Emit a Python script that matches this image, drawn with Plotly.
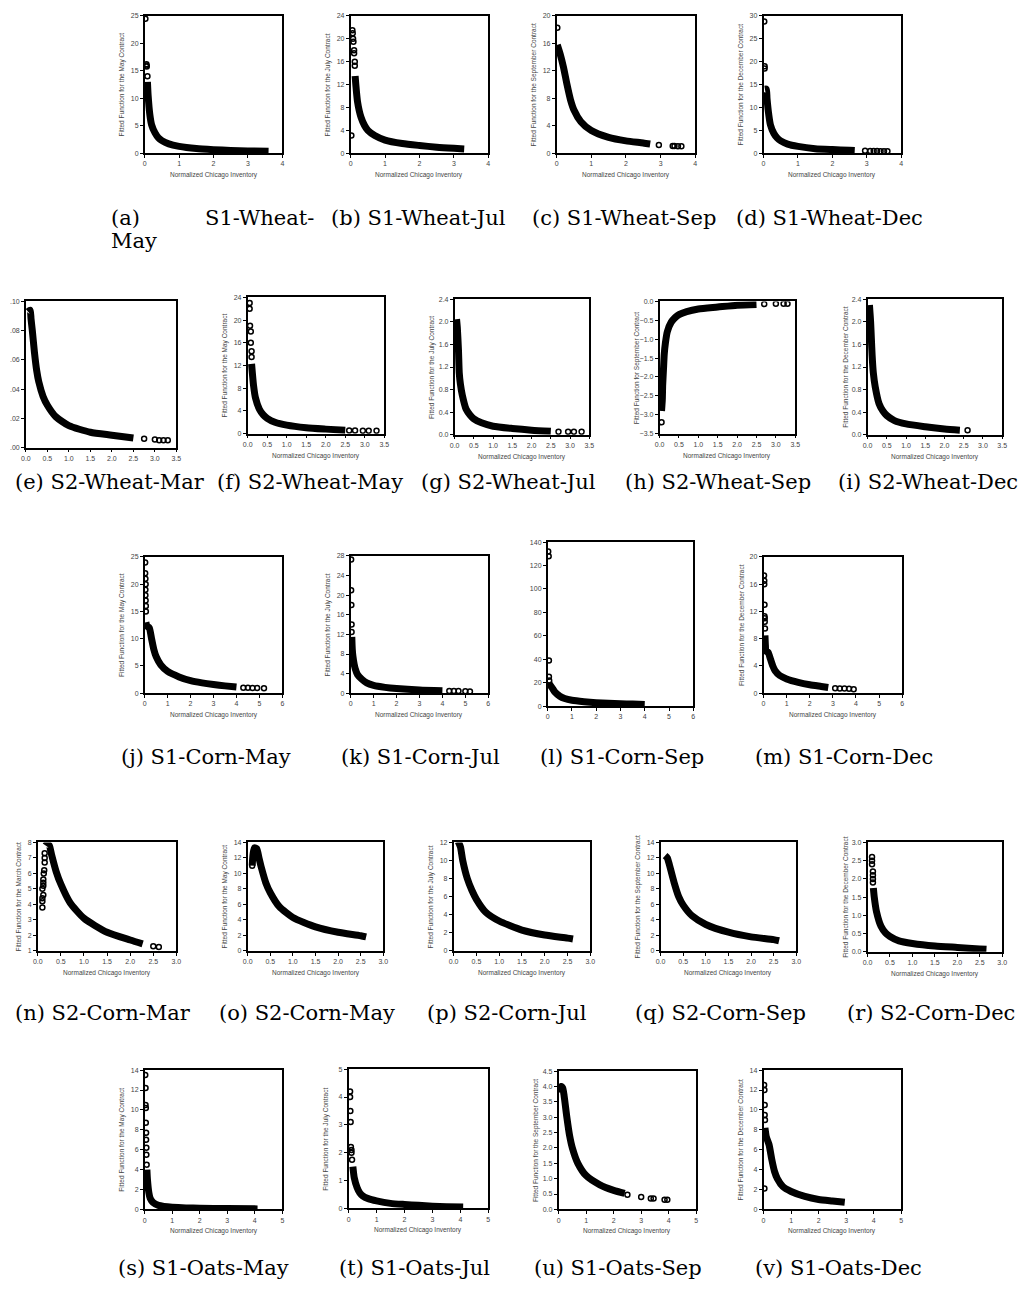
import plotly.graph_objects as go

# page is offset by the default 8px body margin; figure sized to fit the window
OFF = 8
W, H = 1019, 1273

# ---------------- data ----------------
# (a) S1-Wheat-May
a_band_x = [0.08, 0.1, 0.15, 0.2, 0.3, 0.4, 0.5, 0.7, 1.0, 1.5, 2.0, 2.5, 3.0, 3.6]
a_band_y = [13.0, 10.5, 7.0, 5.2, 3.7, 2.8, 2.3, 1.7, 1.25, 0.85, 0.65, 0.5, 0.42, 0.35]
a_out_x = [0.02, 0.05, 0.06, 0.05, 0.08]
a_out_y = [24.5, 16.2, 15.8, 16.0, 14.0]
# (b) S1-Wheat-Jul
b_band_x = [0.13, 0.15, 0.2, 0.3, 0.4, 0.5, 0.7, 1.0, 1.5, 2.0, 2.5, 3.0, 3.3]
b_band_y = [13.5, 12.0, 9.0, 6.3, 4.9, 4.0, 3.1, 2.3, 1.7, 1.35, 1.05, 0.85, 0.75]
b_out_x = [0.05, 0.06, 0.07, 0.08, 0.1, 0.1, 0.12, 0.12, 0.02]
b_out_y = [21.5, 21.0, 20.0, 19.5, 18.0, 17.5, 16.0, 15.3, 3.1]
# (c) S1-Wheat-Sep
c_band_x = [0.02, 0.1, 0.2, 0.3, 0.4, 0.5, 0.7, 1.0, 1.5, 2.0, 2.5, 2.7]
c_band_y = [15.8, 14.5, 12.5, 10.0, 7.8, 6.3, 4.6, 3.3, 2.3, 1.8, 1.5, 1.35]
c_out_x = [0.02, 2.95, 3.35, 3.4, 3.5, 3.6]
c_out_y = [18.3, 1.2, 1.05, 1.05, 1.0, 1.0]
# (d) S1-Wheat-Dec
d_band_x = [0.04, 0.08, 0.1, 0.15, 0.2, 0.3, 0.4, 0.5, 0.7, 1.0, 1.5, 2.0, 2.5, 2.65]
d_band_y = [14.0, 14.0, 12.0, 8.5, 6.2, 4.3, 3.3, 2.7, 2.0, 1.5, 1.0, 0.8, 0.65, 0.6]
d_out_x = [0.02, 0.03, 0.03, 2.95, 3.1, 3.2, 3.3, 3.4, 3.5, 3.6]
d_out_y = [28.8, 19.0, 18.5, 0.55, 0.5, 0.5, 0.5, 0.45, 0.45, 0.45]
# (e) S2-Wheat-Mar
e_band_x = [0.05, 0.1, 0.12, 0.15, 0.2, 0.25, 0.3, 0.4, 0.5, 0.7, 1.0, 1.5, 2.0, 2.5]
e_band_y = [0.093, 0.094, 0.088, 0.08, 0.065, 0.053, 0.045, 0.035, 0.029, 0.021, 0.015, 0.0105, 0.0085, 0.0065]
e_out_x = [2.75, 3.0, 3.1, 3.2, 3.3]
e_out_y = [0.006, 0.0055, 0.005, 0.005, 0.005]
# (f) S2-Wheat-May
f_band_x = [0.1, 0.15, 0.2, 0.3, 0.4, 0.5, 0.7, 1.0, 1.5, 2.0, 2.5]
f_band_y = [12.3, 8.5, 6.3, 4.3, 3.3, 2.7, 2.0, 1.5, 1.05, 0.8, 0.6]
f_out_x = [0.05, 0.05, 0.06, 0.08, 0.08, 0.1, 0.1, 2.6, 2.75, 2.95, 3.1, 3.3]
f_out_y = [23.0, 22.0, 19.0, 18.0, 16.0, 14.5, 13.5, 0.55, 0.55, 0.5, 0.5, 0.5]
# (g) S2-Wheat-Jul
g_band_x = [0.05, 0.07, 0.1, 0.12, 0.15, 0.2, 0.3, 0.4, 0.5, 0.7, 1.0, 1.5, 2.0, 2.5]
g_band_y = [2.05, 1.9, 1.5, 1.1, 0.9, 0.7, 0.45, 0.35, 0.28, 0.21, 0.15, 0.11, 0.08, 0.06]
g_out_x = [2.7, 2.95, 3.1, 3.3]
g_out_y = [0.05, 0.05, 0.05, 0.05]
# (h) S2-Wheat-Sep
h_band_x = [0.05, 0.07, 0.08, 0.1, 0.12, 0.15, 0.2, 0.3, 0.4, 0.5, 0.7, 1.0, 1.5, 2.0, 2.5]
h_band_y = [-2.9, -2.6, -2.2, -1.8, -1.4, -1.1, -0.8, -0.55, -0.43, -0.35, -0.27, -0.2, -0.15, -0.1, -0.08]
h_out_x = [0.05, 2.7, 3.0, 3.2, 3.3]
h_out_y = [-3.2, -0.07, -0.06, -0.06, -0.06]
# (i) S2-Wheat-Dec
i_band_x = [0.05, 0.08, 0.1, 0.12, 0.15, 0.2, 0.3, 0.4, 0.5, 0.7, 1.0, 1.5, 2.0, 2.4]
i_band_y = [2.3, 2.0, 1.7, 1.4, 1.1, 0.85, 0.55, 0.42, 0.34, 0.25, 0.19, 0.14, 0.1, 0.08]
i_out_x = [2.6]
i_out_y = [0.08]
# (j) S1-Corn-May
j_band_x = [0.05, 0.1, 0.2, 0.3, 0.4, 0.5, 0.7, 1.0, 1.5, 2.0, 2.5, 3.0, 3.5, 4.0]
j_band_y = [13.0, 12.3, 12.0, 10.0, 8.0, 6.7, 5.2, 4.0, 3.0, 2.3, 1.9, 1.6, 1.35, 1.15]
j_out_x = [0.02, 0.02, 0.03, 0.04, 0.03, 0.03, 0.04, 0.05, 0.05, 4.3, 4.5, 4.7, 4.9, 5.2]
j_out_y = [24.0, 22.0, 21.0, 20.0, 19.0, 18.0, 17.0, 16.0, 15.0, 1.0, 1.0, 0.95, 0.95, 0.9]
# (k) S1-Corn-Jul
k_band_x = [0.05, 0.07, 0.1, 0.15, 0.2, 0.3, 0.5, 0.7, 1.0, 1.5, 2.0, 3.0, 4.0]
k_band_y = [11.5, 9.0, 7.5, 6.0, 5.0, 3.8, 2.8, 2.1, 1.6, 1.2, 0.95, 0.65, 0.5]
k_out_x = [0.02, 0.02, 0.03, 0.04, 0.04, 4.3, 4.5, 4.7, 5.0, 5.2]
k_out_y = [27.3, 21.0, 18.0, 14.0, 12.5, 0.45, 0.45, 0.45, 0.4, 0.35]
# (l) S1-Corn-Sep
l_band_x = [0.05, 0.1, 0.2, 0.3, 0.5, 0.7, 1.0, 1.5, 2.0, 2.5, 3.0, 3.5, 4.0]
l_band_y = [20.0, 18.0, 15.0, 12.0, 8.5, 6.5, 5.0, 3.8, 3.0, 2.5, 2.1, 1.8, 1.5]
l_out_x = [0.02, 0.04, 0.05, 0.05, 0.06]
l_out_y = [132.0, 128.0, 39.0, 25.0, 22.0]
# (m) S1-Corn-Dec
m_band_x = [0.06, 0.08, 0.1, 0.2, 0.3, 0.4, 0.5, 0.7, 1.0, 1.5, 2.0, 2.5, 2.8]
m_band_y = [8.5, 7.0, 6.2, 6.0, 5.0, 4.0, 3.3, 2.6, 2.1, 1.6, 1.25, 1.0, 0.85]
m_out_x = [0.02, 0.03, 0.03, 0.04, 0.04, 0.05, 0.05, 0.06, 3.1, 3.3, 3.5, 3.7, 3.9]
m_out_y = [17.3, 16.5, 16.0, 13.0, 11.3, 11.0, 10.5, 9.5, 0.75, 0.7, 0.7, 0.65, 0.6]
# (n) S2-Corn-Mar
n_band_x = [0.17, 0.2, 0.25, 0.3, 0.4, 0.5, 0.7, 1.0, 1.5, 2.0, 2.27]
n_band_y = [7.8, 7.9, 7.8, 7.2, 6.1, 5.3, 4.1, 3.1, 2.2, 1.7, 1.45]
n_out_x = [0.1, 0.1, 0.1, 0.12, 0.1, 0.12, 0.12, 0.12, 0.13, 0.14, 0.15, 0.15, 0.15, 2.5, 2.62]
n_out_y = [3.8, 4.2, 4.4, 4.6, 5.0, 5.2, 5.4, 5.6, 6.0, 6.2, 6.7, 7.0, 7.3, 1.3, 1.25]
# (o) S2-Corn-May
o_band_x = [0.1, 0.12, 0.15, 0.2, 0.25, 0.3, 0.4, 0.5, 0.7, 1.0, 1.5, 2.0, 2.5, 2.62]
o_band_y = [11.0, 12.5, 13.3, 13.2, 12.0, 10.8, 8.8, 7.5, 5.7, 4.3, 3.1, 2.4, 1.95, 1.8]
o_out_x = [0.1]
o_out_y = [11.0]
# (p) S2-Corn-Jul
p_band_x = [0.1, 0.15, 0.2, 0.3, 0.4, 0.5, 0.7, 1.0, 1.5, 2.0, 2.5, 2.62]
p_band_y = [12.1, 11.5, 10.0, 8.0, 6.7, 5.7, 4.3, 3.3, 2.3, 1.75, 1.4, 1.3]
p_out_x = []
p_out_y = []
# (q) S2-Corn-Sep
q_band_x = [0.1, 0.15, 0.2, 0.3, 0.4, 0.5, 0.7, 1.0, 1.5, 2.0, 2.5, 2.62]
q_band_y = [12.3, 12.0, 11.0, 8.8, 7.0, 5.9, 4.5, 3.4, 2.4, 1.8, 1.45, 1.3]
q_out_x = []
q_out_y = []
# (r) S2-Corn-Dec
r_band_x = [0.13, 0.15, 0.2, 0.3, 0.4, 0.5, 0.7, 1.0, 1.5, 2.0, 2.5, 2.65]
r_band_y = [1.75, 1.5, 1.1, 0.7, 0.52, 0.42, 0.3, 0.23, 0.16, 0.12, 0.08, 0.07]
r_out_x = [0.1, 0.1, 0.1, 0.12, 0.12, 0.12, 0.12]
r_out_y = [2.6, 2.5, 2.4, 2.2, 2.1, 2.0, 1.9]
# (s) S1-Oats-May
s_band_x = [0.08, 0.1, 0.15, 0.2, 0.3, 0.5, 0.7, 1.0, 1.5, 2.0, 3.0, 4.1]
s_band_y = [4.0, 3.0, 1.7, 1.1, 0.7, 0.4, 0.3, 0.22, 0.15, 0.12, 0.08, 0.05]
s_out_x = [0.02, 0.03, 0.03, 0.04, 0.04, 0.05, 0.05, 0.06, 0.06, 0.07]
s_out_y = [13.5, 12.2, 10.5, 10.2, 8.7, 7.7, 7.0, 6.2, 5.5, 4.5]
# (t) S1-Oats-Jul
t_band_x = [0.15, 0.2, 0.3, 0.4, 0.5, 0.7, 1.0, 1.5, 2.0, 2.5, 3.0, 3.5, 4.1]
t_band_y = [1.5, 1.1, 0.75, 0.55, 0.45, 0.35, 0.27, 0.18, 0.14, 0.11, 0.08, 0.06, 0.05]
t_out_x = [0.05, 0.05, 0.06, 0.07, 0.08, 0.1, 0.1, 0.12]
t_out_y = [4.2, 4.0, 3.5, 3.1, 2.2, 2.1, 2.0, 1.75]
# (u) S1-Oats-Sep
u_band_x = [0.05, 0.1, 0.15, 0.2, 0.3, 0.4, 0.5, 0.7, 1.0, 1.5, 2.0, 2.4]
u_band_y = [3.8, 4.0, 3.95, 3.7, 3.0, 2.4, 2.0, 1.5, 1.1, 0.8, 0.62, 0.52]
u_out_x = [2.5, 3.0, 3.35, 3.45, 3.85, 3.95]
u_out_y = [0.48, 0.4, 0.35, 0.35, 0.31, 0.31]
# (v) S1-Oats-Dec
v_band_x = [0.05, 0.1, 0.2, 0.3, 0.4, 0.5, 0.7, 1.0, 1.5, 2.0, 2.5, 2.95]
v_band_y = [8.2, 7.3, 6.5, 5.0, 3.8, 3.1, 2.3, 1.8, 1.3, 1.0, 0.85, 0.72]
v_out_x = [0.02, 0.03, 0.04, 0.04, 0.05, 0.03]
v_out_y = [12.5, 12.0, 10.5, 9.5, 9.0, 2.1]

XT = "Normalized Chicago Inventory"
MAY = "Fitted Function for the May Contract"
JUL = "Fitted Function for the July Contract"
SEP = "Fitted Function for the September Contract"
DEC = "Fitted Function for the December Contract"
MAR = "Fitted Function for the March Contract"
SEP2 = "Fitted Function for September Contract"

e_ytick_vals = [0, 0.02, 0.04, 0.06, 0.08, 0.10]
e_ytick_text = [".00", ".02", ".04", ".06", ".08", ".10"]

captions = {
    'b': "(b) S1-Wheat-Jul", 'c': "(c) S1-Wheat-Sep", 'd': "(d) S1-Wheat-Dec",
    'e': "(e) S2-Wheat-Mar", 'f': "(f) S2-Wheat-May", 'g': "(g) S2-Wheat-Jul",
    'h': "(h) S2-Wheat-Sep", 'i': "(i) S2-Wheat-Dec",
    'j': "(j) S1-Corn-May", 'k': "(k) S1-Corn-Jul", 'l': "(l) S1-Corn-Sep",
    'm': "(m) S1-Corn-Dec",
    'n': "(n) S2-Corn-Mar", 'o': "(o) S2-Corn-May", 'p': "(p) S2-Corn-Jul",
    'q': "(q) S2-Corn-Sep", 'r': "(r) S2-Corn-Dec",
    's': "(s) S1-Oats-May", 't': "(t) S1-Oats-Jul", 'u': "(u) S1-Oats-Sep",
    'v': "(v) S1-Oats-Dec",
}

# caption placement in page pixels: (x, anchor, y)
CAP_POS = {
    'b': (418, 'center', 215), 'c': (625, 'center', 215), 'd': (833, 'center', 215),
    'e': (8, 'left', 481), 'f': (212, 'left', 481), 'g': (418, 'left', 481),
    'h': (624, 'left', 481), 'i': (1025, 'right', 481),
    'j': (115, 'left', 757), 'k': (337, 'left', 757), 'l': (538, 'left', 757),
    'm': (755, 'left', 757),
    'n': (8, 'left', 1015), 'o': (214, 'left', 1015), 'p': (424, 'left', 1015),
    'q': (634, 'left', 1015), 'r': (1022, 'right', 1015),
    's': (112, 'left', 1271), 't': (335, 'left', 1271), 'u': (532, 'left', 1271),
    'v': (755, 'left', 1271),
}

# ---------------- layout of panels (page pixel boxes) ----------------
P = [
    ('a', (141, 12, 280, 150), [0, 4], 1, 'd', [0, 25], 5, 'd', MAY, True, a_band_x, a_band_y, a_out_x, a_out_y),
    ('b', (349, 12, 488, 150), [0, 4], 1, 'd', [0, 24], 4, 'd', JUL, True, b_band_x, b_band_y, b_out_x, b_out_y),
    ('c', (557, 12, 697, 150), [0, 4], 1, 'd', [0, 20], 4, 'd', SEP, True, c_band_x, c_band_y, c_out_x, c_out_y),
    ('d', (766, 12, 905, 150), [0, 4], 1, 'd', [0, 30], 5, 'd', DEC, True, d_band_x, d_band_y, d_out_x, d_out_y),
    ('e', (21, 299, 173, 446), [0, 3.5], 0.5, '.1f', [0, 0.1], 0.02, 'E', None, False, e_band_x, e_band_y, e_out_x, e_out_y),
    ('f', (245, 295, 383, 432), [0, 3.5], 0.5, '.1f', [0, 24], 4, 'd', MAY, True, f_band_x, f_band_y, f_out_x, f_out_y),
    ('g', (454, 297, 590, 433), [0, 3.5], 0.5, '.1f', [0, 2.4], 0.4, '.1f', JUL, True, g_band_x, g_band_y, g_out_x, g_out_y),
    ('h', (661, 299, 798, 432), [0, 3.5], 0.5, '.1f', [-3.5, 0], 0.5, '.1f', SEP2, True, h_band_x, h_band_y, h_out_x, h_out_y),
    ('i', (871, 297, 1007, 433), [0, 3.5], 0.5, '.1f', [0, 2.4], 0.4, '.1f', DEC, True, i_band_x, i_band_y, i_out_x, i_out_y),
    ('j', (141, 556, 280, 693), [0, 6], 1, 'd', [0, 25], 5, 'd', MAY, True, j_band_x, j_band_y, j_out_x, j_out_y),
    ('k', (349, 555, 488, 693), [0, 6], 1, 'd', [0, 28], 4, 'd', JUL, True, k_band_x, k_band_y, k_out_x, k_out_y),
    ('l', (548, 541, 695, 706), [0, 6], 1, 'd', [0, 140], 20, 'd', None, False, l_band_x, l_band_y, l_out_x, l_out_y),
    ('m', (766, 556, 906, 693), [0, 6], 1, 'd', [0, 20], 4, 'd', DEC, True, m_band_x, m_band_y, m_out_x, m_out_y),
    ('n', (33, 843, 173, 952), [0, 3], 0.5, '.1f', [1, 8], 1, 'd', MAR, True, n_band_x, n_band_y, n_out_x, n_out_y),
    ('o', (245, 843, 382, 952), [0, 3], 0.5, '.1f', [0, 14], 2, 'd', MAY, True, o_band_x, o_band_y, o_out_x, o_out_y),
    ('p', (453, 843, 591, 952), [0, 3], 0.5, '.1f', [0, 12], 2, 'd', JUL, True, p_band_x, p_band_y, p_out_x, p_out_y),
    ('q', (662, 843, 799, 952), [0, 3], 0.5, '.1f', [0, 14], 2, 'd', SEP, True, q_band_x, q_band_y, q_out_x, q_out_y),
    ('r', (871, 843, 1007, 953), [0, 3], 0.5, '.1f', [0, 3], 0.5, '.1f', DEC, True, r_band_x, r_band_y, r_out_x, r_out_y),
    ('s', (141, 1072, 280, 1212), [0, 5], 1, 'd', [0, 14], 2, 'd', MAY, True, s_band_x, s_band_y, s_out_x, s_out_y),
    ('t', (347, 1071, 488, 1211), [0, 5], 1, 'd', [0, 5], 1, 'd', JUL, True, t_band_x, t_band_y, t_out_x, t_out_y),
    ('u', (559, 1073, 698, 1212), [0, 5], 1, 'd', [0, 4.5], 0.5, '.1f', SEP, True, u_band_x, u_band_y, u_out_x, u_out_y),
    ('v', (766, 1072, 905, 1212), [0, 5], 1, 'd', [0, 14], 2, 'd', DEC, True, v_band_x, v_band_y, v_out_x, v_out_y),
]

TICKFONT = dict(family="Liberation Sans, Arial, sans-serif", size=7, color="#444")
TITLEFONT = dict(family="Liberation Sans, Arial, sans-serif", size=6.5, color="#444")
CAPFONT = dict(family="DejaVu Serif, serif", size=21, color="black")

fig = go.Figure()
layout = dict(width=W, height=H, margin=dict(l=0, r=0, t=0, b=0),
              paper_bgcolor="white", plot_bgcolor="white", showlegend=False)
annotations = []

def px(xp):
    return min(max((xp - OFF) / W, 0.0), 1.0)

def py(yp):
    return min(max(1 - (yp - OFF) / H, 0.0), 1.0)

for idx, (key, box, xr, xd, xf, yr, yd, yf, ytitle, xtitle, bx, by, ox, oy) in enumerate(P, start=1):
    l, t, r, b = box
    xa = 'x' if idx == 1 else f'x{idx}'
    ya = 'y' if idx == 1 else f'y{idx}'
    fig.add_trace(go.Scatter(x=bx, y=by, mode='lines', xaxis=xa, yaxis=ya,
                             line=dict(color='black', width=7, shape='spline', smoothing=0.6),
                             hoverinfo='skip'))
    fig.add_trace(go.Scatter(x=ox, y=oy, mode='markers', xaxis=xa, yaxis=ya,
                             marker=dict(symbol='circle-open', size=5, color='black',
                                         line=dict(width=1.5, color='black'))))
    common = dict(showline=True, linecolor='black', linewidth=1.5, mirror=True,
                  ticks='outside', ticklen=3, tickwidth=1, tickcolor='black',
                  tickfont=TICKFONT, showgrid=False, zeroline=False)
    xaxis = dict(domain=[px(l), px(r)], range=xr, tick0=0, dtick=xd,
                 anchor=ya, **common)
    if xf != 'd':
        xaxis['tickformat'] = xf
    yaxis = dict(domain=[py(b), py(t)], range=yr, anchor=xa, **common)
    if yf == 'E':
        yaxis['tickvals'] = e_ytick_vals
        yaxis['ticktext'] = e_ytick_text
    else:
        yaxis['tick0'] = 0
        yaxis['dtick'] = yd
        if yf != 'd':
            yaxis['tickformat'] = yf
    layout['xaxis' if idx == 1 else f'xaxis{idx}'] = xaxis
    layout['yaxis' if idx == 1 else f'yaxis{idx}'] = yaxis

    if ytitle:
        off = 19 if key == 'n' else 23
        annotations.append(dict(text=ytitle, x=px(l - off), y=py((t + b) / 2),
                                xref='paper', yref='paper', showarrow=False,
                                textangle=-90, font=TITLEFONT,
                                xanchor='center', yanchor='middle'))
    if xtitle:
        annotations.append(dict(text=XT, x=px((l + r) / 2), y=py(b + 22),
                                xref='paper', yref='paper', showarrow=False,
                                font=TITLEFONT, xanchor='center', yanchor='middle'))
    if key in captions:
        cx, anc, cy = CAP_POS[key]
        annotations.append(dict(text=captions[key], x=px(cx), y=py(cy),
                                xref='paper', yref='paper', showarrow=False,
                                font=CAPFONT, xanchor=anc, yanchor='middle'))

# special wrapped caption (a)
annotations.append(dict(text="(a)", x=px(105), y=py(215), xref='paper', yref='paper',
                        showarrow=False, font=CAPFONT, xanchor='left', yanchor='middle'))
annotations.append(dict(text="S1-Wheat-", x=px(314), y=py(215), xref='paper', yref='paper',
                        showarrow=False, font=CAPFONT, xanchor='right', yanchor='middle'))
annotations.append(dict(text="May", x=px(105), y=py(238), xref='paper', yref='paper',
                        showarrow=False, font=CAPFONT, xanchor='left', yanchor='middle'))

layout['annotations'] = annotations
fig.update_layout(**layout)
fig.write_html("out.html")
